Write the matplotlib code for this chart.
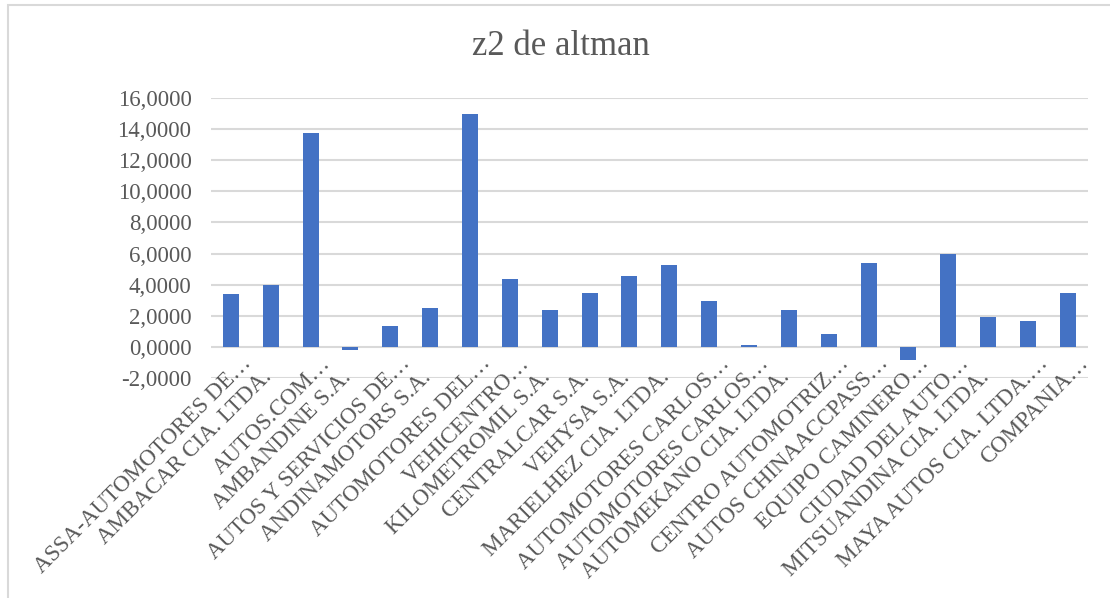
import matplotlib
matplotlib.use('Agg')
import matplotlib.pyplot as plt
from matplotlib.ticker import FuncFormatter, MultipleLocator
from matplotlib.patches import Rectangle
from matplotlib.transforms import offset_copy

# data
empresas = [
    'ASSA-AUTOMOTORES DE…', 'AMBACAR CIA. LTDA.', 'AUTOS.COM…', 'AMBANDINE S.A.',
    'AUTOS Y SERVICIOS DE…', 'ANDINAMOTORS S.A.', 'AUTOMOTORES DEL…', 'VEHICENTRO…',
    'KILOMETROMIL S.A.', 'CENTRALCAR S.A.', 'VEHYSA S.A.', 'MARIELHEZ CIA. LTDA.',
    'AUTOMOTORES CARLOS…', 'AUTOMOTORES CARLOS…', 'AUTOMEKANO CIA. LTDA.',
    'CENTRO AUTOMOTRIZ…', 'AUTOS CHINAACCPASS…', 'EQUIPO CAMINERO…',
    'CIUDAD DEL AUTO…', 'MITSUANDINA CIA. LTDA.', 'MAYA AUTOS CIA. LTDA.…', 'COMPANIA…',
]
z2 = [3.37, 3.95, 13.75, -0.22, 1.31, 2.51, 14.95, 4.34, 2.34, 3.48, 4.57,
      5.24, 2.92, 0.10, 2.34, 0.82, 5.39, -0.82, 5.97, 1.95, 1.63, 3.48]

plt.rcParams['font.family'] = ['Liberation Serif', 'DejaVu Serif']
plt.rcParams['axes.unicode_minus'] = False
gris = '#595959'

fig = plt.figure(figsize=(11.10, 5.98), dpi=100)
ax = fig.add_axes([0.190, 0.368, 0.790, 0.468])

# chart border
fig.patches.append(Rectangle((8 / 1110, -0.1), 1.2, 1.1 - 5 / 598, transform=fig.transFigure,
                             fill=False, edgecolor='#D9D9D9', linewidth=1.5))

x = range(len(empresas))
ax.bar(x, z2, width=0.4, color='#4472C4', zorder=3)

ax.set_xlim(-0.5, len(empresas) - 0.5)
ax.set_ylim(-2, 16)
ax.yaxis.set_major_locator(MultipleLocator(2))
ax.yaxis.set_major_formatter(FuncFormatter(lambda v, p: f'{v:.4f}'.replace('.', ',')))
ax.grid(axis='y', color='#D9D9D9', linewidth=1.5, zorder=0)
for s in ax.spines.values():
    s.set_visible(False)
ax.tick_params(axis='y', length=0, labelsize=16.5, labelcolor=gris, pad=14)
ax.set_xticks([])

# category labels hang from the zero line, like Excel
# (truncated labels end a bit further along the diagonal than complete ones)
trans_cut = offset_copy(ax.transData, fig=fig, x=15, y=-12.5, units='points')
trans_full = offset_copy(ax.transData, fig=fig, x=1, y=-22.5, units='points')
for i, nombre in enumerate(empresas):
    tr = trans_cut if nombre.endswith('…') else trans_full
    ax.text(i, 0, nombre, transform=tr, rotation=45, rotation_mode='anchor',
            ha='right', va='baseline', fontsize=16.5, color=gris, clip_on=False)

fig.text(0.505, 0.922, 'z2 de altman', ha='center', va='center', fontsize=25, color=gris)

fig.savefig('out.png', dpi=100)
